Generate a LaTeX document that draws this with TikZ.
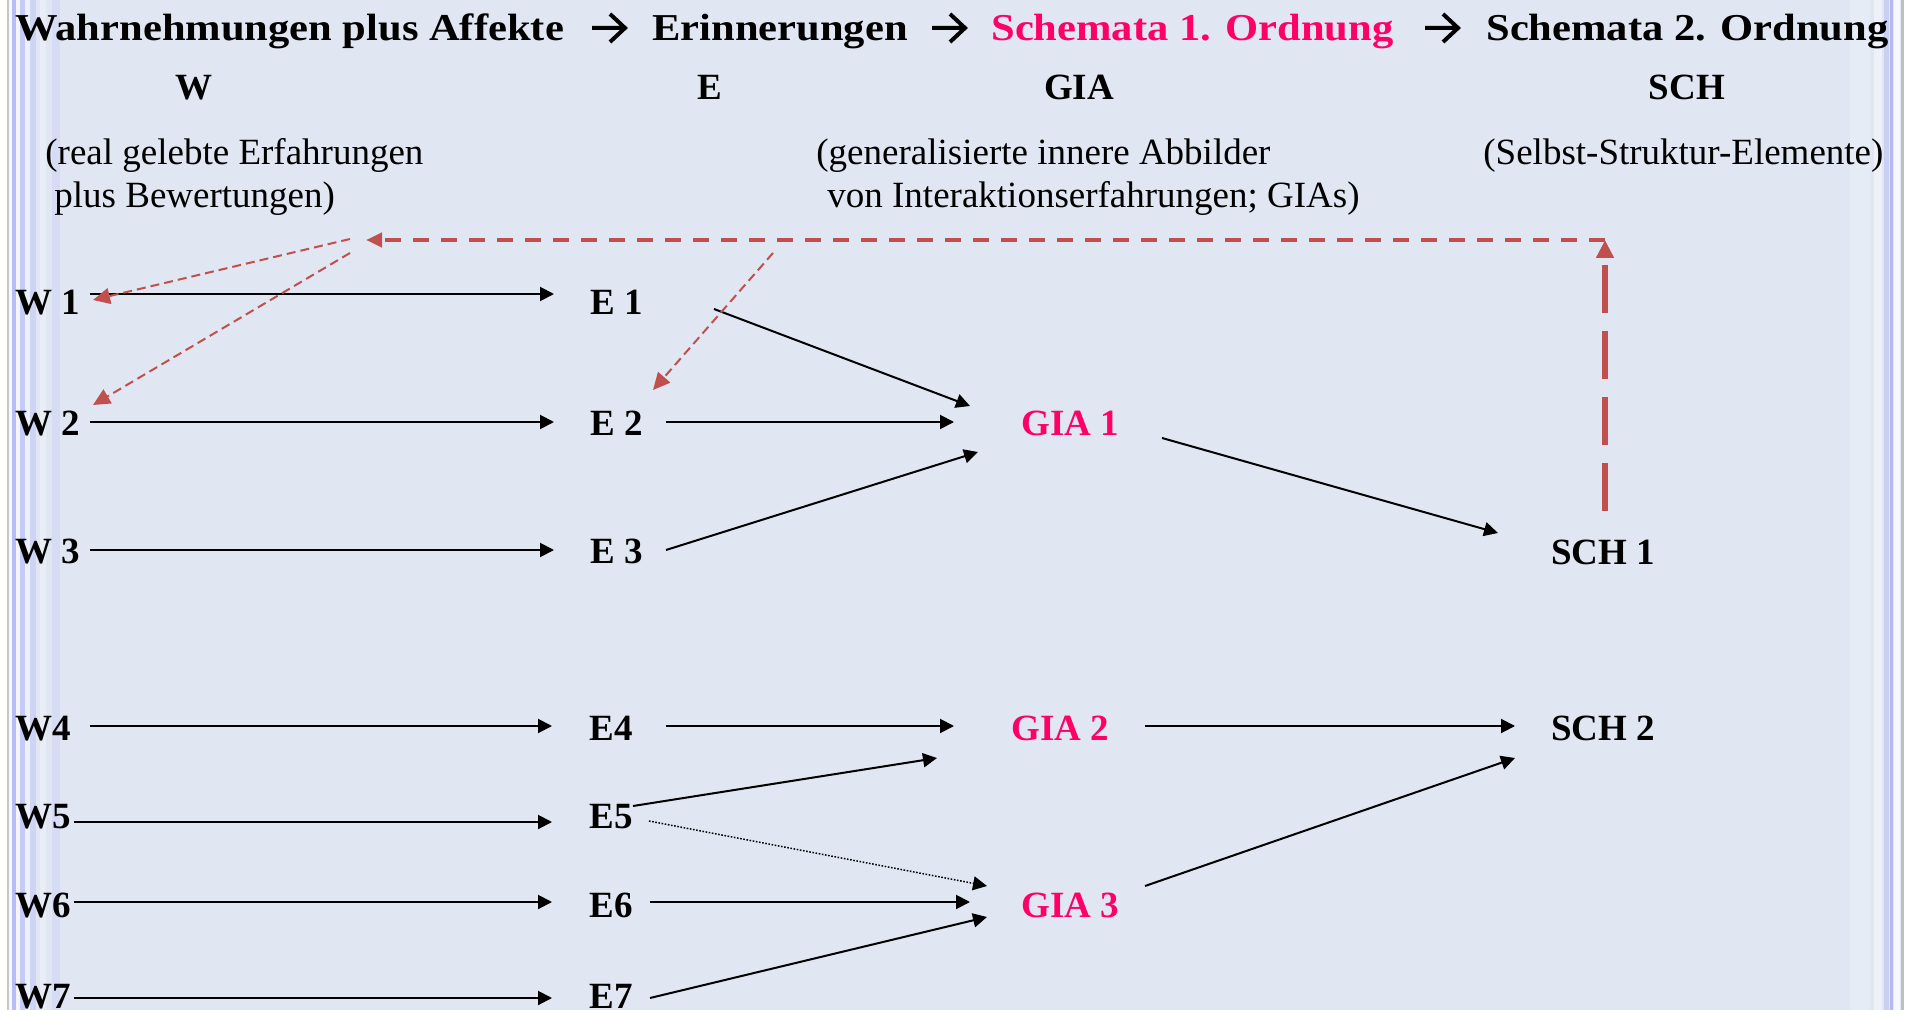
\documentclass[tikz,border=0pt]{standalone}
\usepackage{fontspec}
\setmainfont{Liberation Serif}
\usetikzlibrary{arrows.meta}
\definecolor{bgc}{RGB}{224,231,243}
\definecolor{gpink}{RGB}{255,0,102}
\definecolor{dred}{RGB}{192,80,77}
\begin{document}
\begin{tikzpicture}[x=0.5pt,y=-0.5pt,
  lbl/.style={anchor=base west,inner sep=0pt,font=\fontsize{18.5}{20}\selectfont\bfseries},
  pk/.style={text=gpink},
  hdr/.style={anchor=base west,inner sep=0pt,font=\fontsize{19}{20}\selectfont\bfseries},
  col/.style={anchor=base,inner sep=0pt,font=\fontsize{18.5}{20}\selectfont\bfseries},
  note/.style={anchor=base west,inner sep=0pt,font=\fontsize{18.5}{20}\selectfont},
  hchev/.style={line width=2pt,line join=miter,line cap=butt},
  arr/.style={line width=1pt,-{Triangle[length=7pt,width=7pt]}},
  dotarr/.style={line width=0.75pt,dash pattern=on 0.8pt off 0.8pt,-{Triangle[length=7pt,width=7pt]}},
  redthin/.style={draw=dred,line width=1pt,dash pattern=on 4.5pt off 2.5pt,-{Triangle[length=8.5pt,width=8pt]}},
  redh/.style={draw=dred,line width=2.15pt,dash pattern=on 7.8pt off 6.2pt,-{Triangle[length=8pt,width=7pt]}},
  redv/.style={draw=dred,line width=3.35pt,dash pattern=on 24pt off 9pt,-{Triangle[length=9pt,width=8.5pt]}}
]
\useasboundingbox (0,0) rectangle (1910,1010);
\fill[bgc] (0,0) rectangle (1910,1010);
% slide edge stripes
\fill[white] (0,0) rectangle (7,1010);
\fill[black!22] (7,0) rectangle (9,1010);
\fill[white!70!bgc] (9,0) rectangle (12,1010);
\fill[blue!18!bgc] (12,0) rectangle (16,1010);
\fill[white!60!bgc] (16,0) rectangle (20,1010);
\fill[blue!12!bgc] (20,0) rectangle (25,1010);
\fill[white!40!bgc] (25,0) rectangle (30,1010);
\fill[blue!8!bgc] (30,0) rectangle (36,1010);
\fill[white!25!bgc] (40,0) rectangle (46,1010);
\fill[blue!5!bgc] (52,0) rectangle (60,1010);
\fill[white!20!bgc] (1850,0) rectangle (1870,1010);
\fill[white!45!bgc] (1874,0) rectangle (1882,1010);
\fill[blue!10!bgc] (1884,0) rectangle (1889,1010);
\fill[blue!20!bgc] (1890,0) rectangle (1893,1010);
\fill[white!70!bgc] (1894,0) rectangle (1900,1010);
\fill[black!25] (1901,0) rectangle (1904,1010);
\fill[white] (1904,0) rectangle (1910,1010);

% header
\node[hdr] (h1) at (15,41) {\scalebox{1.12}[1]{Wahrnehmungen plus Affekte}};
\node[hdr] (h2) at (652,41) {\scalebox{1.12}[1]{Erinnerungen}};
\node[hdr,pk] (h3) at (991,41) {\scalebox{1.12}[1]{Schemata 1. Ordnung}};
\node[hdr] (h4) at (1486,41) {\scalebox{1.12}[1]{Schemata 2. Ordnung}};
% header arrows
\draw[hchev] (592,28) -- (624,28) (610,14) -- (625,28) -- (610,42);
\draw[hchev] (932,28) -- (964,28) (950,14) -- (965,28) -- (950,42);
\draw[hchev] (1425,28) -- (1457,28) (1443,14) -- (1458,28) -- (1443,42);

% column titles
\node[col] (cW) at (194,100) {W};
\node[col] (cE) at (710,100) {E};
\node[col] (cG) at (1079,100) {GIA};
\node[col] (cS) at (1687,100) {SCH};

% notes
\node[note] (n1) at (45,165) {(real gelebte Erfahrungen};
\node[note] (n2) at (54,208) {plus Bewertungen)};
\node[note] (n3) at (816,165) {(generalisierte innere Abbilder};
\node[note] (n4) at (827,208) {von Interaktionserfahrungen; GIAs)};
\node[note] (n5) at (1483,165) {(Selbst-Struktur-Elemente)};

% nodes
\node[lbl] (W1) at (15,315) {W 1};
\node[lbl] (W2) at (15,436) {W 2};
\node[lbl] (W3) at (15,563) {W 3};
\node[lbl] (W4) at (15,740) {W4};
\node[lbl] (W5) at (15,828) {W5};
\node[lbl] (W6) at (15,917) {W6};
\node[lbl] (W7) at (15,1008) {W7};
\node[lbl] (E1) at (590,315) {E 1};
\node[lbl] (E2) at (590,436) {E 2};
\node[lbl] (E3) at (590,563) {E 3};
\node[lbl] (E4) at (589,740) {E4};
\node[lbl] (E5) at (589,828) {E5};
\node[lbl] (E6) at (589,917) {E6};
\node[lbl] (E7) at (589,1008) {E7};
\node[lbl,pk] (G1) at (1021,436) {GIA 1};
\node[lbl,pk] (G2) at (1011,740) {GIA 2};
\node[lbl,pk] (G3) at (1021,917) {GIA 3};
\node[lbl] (S1) at (1551,564) {SCH 1};
\node[lbl] (S2) at (1551,740) {SCH 2};

% W -> E
\draw[arr] ([shift={(75,-21)}]W1.base west) -- ([shift={(-36,-21)}]E1.base west);
\draw[arr] ([shift={(75,-14)}]W2.base west) -- ([shift={(-36,-14)}]E2.base west);
\draw[arr] ([shift={(75,-13)}]W3.base west) -- ([shift={(-36,-13)}]E3.base west);
\draw[arr] ([shift={(75,-14)}]W4.base west) -- ([shift={(-37,-14)}]E4.base west);
\draw[arr] ([shift={(59,-6)}]W5.base west) -- ([shift={(-37,-6)}]E5.base west);
\draw[arr] ([shift={(59,-15)}]W6.base west) -- ([shift={(-37,-15)}]E6.base west);
\draw[arr] ([shift={(59,-10)}]W7.base west) -- ([shift={(-37,-10)}]E7.base west);

% E -> GIA
\draw[arr] ([shift={(124,-6)}]E1.base west) -- ([shift={(-51,-30)}]G1.base west);
\draw[arr] ([shift={(76,-14)}]E2.base west) -- ([shift={(-67,-14)}]G1.base west);
\draw[arr] ([shift={(76,-13)}]E3.base west) -- ([shift={(-43,16)}]G1.base west);
\draw[arr] ([shift={(77,-14)}]E4.base west) -- ([shift={(-57,-14)}]G2.base west);
\draw[arr] ([shift={(44,-22)}]E5.base west) -- ([shift={(-74,18)}]G2.base west);
\draw[dotarr] ([shift={(60,-7)}]E5.base west) -- ([shift={(-34,-31)}]G3.base west);
\draw[arr] ([shift={(61,-15)}]E6.base west) -- ([shift={(-51,-15)}]G3.base west);
\draw[arr] ([shift={(61,-10)}]E7.base west) -- ([shift={(-34,0)}]G3.base west);

% GIA -> SCH
\draw[arr] ([shift={(141,2)}]G1.base west) -- ([shift={(-53,-31)}]S1.base west);
\draw[arr] ([shift={(134,-14)}]G2.base west) -- ([shift={(-36,-14)}]S2.base west);
\draw[arr] ([shift={(124,-31)}]G3.base west) -- ([shift={(-36,18)}]S2.base west);

% red feedback
\coordinate (corner) at (1605,240);
\coordinate (rtip) at (366,240);
\coordinate (r1) at (350,239);
\coordinate (r2) at (350,253);
\coordinate (r3) at (773,253);
\draw[redv] ([shift={(54,-53)}]S1.base west) -- (corner);
\draw[redh] (corner) -- (rtip);
\draw[redthin] (r1) -- ([shift={(78,-15)}]W1.base west);
\draw[redthin] (r2) -- ([shift={(78,-31)}]W2.base west);
\draw[redthin] (r3) -- ([shift={(63,-46)}]E2.base west);
\end{tikzpicture}
\end{document}
